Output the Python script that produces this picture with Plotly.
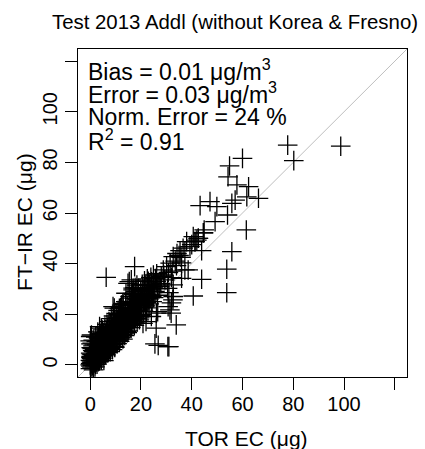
import plotly.graph_objects as go

# TOR EC vs FT-IR EC (ug)
tor_ec = [
    # x 0-3
    0.2, 0.5, 0.8, 1.0, 0.3, 1.5, 1.2, 0.6, 2.0, 1.8, 2.5, 0.1, 0.9, 2.2, 1.4,
    0.4, 2.8, 3.0, 1.7, 0.7, 2.4, 0.2, 1.1, 0.5, 1.3, 2.1, 3.2, 2.9, 0.0, 1.9,
    0.3, 0.6, 1.0, 1.6, 2.3, 2.7, 0.9, 1.4, 0.1, 2.6, 3.1, 1.2, 0.4, 0.8, 2.0,
    # x 3-6
    3.5, 3.8, 4.0, 4.2, 4.5, 4.8, 5.0, 5.2, 5.5, 5.8, 3.3, 3.6, 4.1, 4.6, 5.1,
    5.6, 5.9, 3.1, 4.4, 5.3, 4.9, 3.9, 5.7, 6.0, 3.4, 3.7, 4.3, 4.7, 5.4, 2.6,
    3.0, 4.0, 5.0, 3.2,
    # x 6-10
    6.2, 6.5, 6.8, 7.0, 7.3, 7.6, 7.9, 8.2, 8.5, 8.8, 9.1, 9.4, 9.7, 10.0, 6.4,
    6.9, 7.5, 8.1, 8.7, 9.3, 9.9, 6.3, 7.2, 8.0, 8.9, 9.6, 10.2, 7.8, 6.6, 9.0,
    6.0, 7.1, 8.4, 9.5, 6.7, 7.7, 8.6, 9.8,
    # x 10-14
    10.4, 10.7, 11.0, 11.3, 11.6, 11.9, 12.2, 12.5, 12.8, 13.1, 13.4, 13.7, 14.0,
    10.5, 11.2, 12.0, 12.7, 13.3, 10.9, 11.8, 12.9, 13.6, 14.2, 10.1, 11.5, 12.4,
    13.9, 10.8, 11.4, 12.1, 12.6, 13.2, 13.8,
    # x 14-20
    14.3, 14.6, 14.9, 15.2, 15.5, 15.8, 16.1, 16.4, 16.7, 17.0, 17.3, 17.6, 17.9,
    18.2, 18.5, 18.8, 19.1, 19.4, 19.7, 20.0, 14.8, 15.6, 16.3, 17.2, 18.0, 19.0,
    15.0, 16.0, 17.5, 18.6, 19.8, 16.9, 18.4,
    # x 20-25
    20.3, 20.6, 20.9, 21.2, 21.5, 21.8, 22.1, 22.4, 22.7, 23.0, 23.3, 23.6, 23.9,
    24.2, 24.5, 24.8, 20.5, 21.4, 22.5, 21.0, 22.0, 23.2, 24.4, 20.2,
    # extra fill of the dense band
    0.5, 1.0, 1.5, 2.0, 2.5, 3.0, 3.5, 4.0, 4.5, 5.0, 0.8, 1.6, 2.4, 3.3, 4.2,
    0.3, 1.2, 2.2, 3.0, 4.4, 1.9, 2.7, 3.6, 4.6, 5.4,
    5.5, 6.0, 6.5, 7.0, 7.5, 8.0, 8.5, 9.0, 9.5, 10.0, 5.8, 6.6, 7.4, 8.3, 9.2,
    6.1, 7.0, 7.9, 8.8, 9.7, 5.2, 6.3, 7.4, 8.5, 9.4,
    10.3, 10.8, 11.3, 11.8, 12.3, 12.8, 13.3, 13.8, 14.3, 14.8, 10.6, 11.6, 12.6,
    13.6, 14.6, 10.2, 11.0, 12.0, 13.0, 14.0, 10.9, 11.9, 12.9, 13.9, 14.9,
    15.3, 15.8, 16.3, 16.8, 17.3, 17.8, 18.3, 18.8, 19.3, 19.8, 15.1, 16.2, 17.4,
    18.5, 19.5, 15.7, 16.6, 17.7, 18.9, 19.9, 15.4, 16.5, 17.6, 18.7, 19.6,
    20.4, 20.9, 21.4, 21.9, 22.4, 22.9, 23.4, 23.9, 24.4, 24.9, 20.1, 21.1, 22.1,
    23.1, 24.1, 25.2, 25.7, 26.2, 25.0, 26.4,
    # x 25-45 band
    25.5, 26.0, 26.8, 27.4, 28.0, 28.8, 29.4, 30.1, 30.8, 31.5, 32.0, 32.7, 33.5,
    34.2, 35.0, 35.4, 36.0, 36.6, 37.3, 38.0, 38.6, 39.3, 40.0, 41.3, 42.0, 42.6,
    44.6, 26.5, 27.8, 29.0, 30.5, 32.3, 34.0, 35.8, 37.3, 36.0, 32.7, 31.0,
    # above the band
    6.3, 17.5, 15.4, 14.1, 9.5, 0.2, 16.2, 14.9, 16.9, 9.0, 12.9, 3.7, 0.0,
    # below the band
    26.0, 25.5, 26.8, 30.6, 33.9, 32.6, 31.9, 26.6, 22.0, 19.4, 30.7, 31.4, 26.1,
    22.2, 20.8, 24.1, 32.7, 32.0, 31.0,
    # high values
    43.3, 47.2, 49.9, 57.8, 62.4, 66.3, 61.7, 57.1, 55.8, 54.1, 49.2, 61.5, 44.6,
    42.6, 41.3, 43.9, 55.8, 53.8, 43.9, 53.8, 40.6, 98.7, 77.8, 80.2, 60.0, 54.9,
    54.3, 44.9, 40.6,
]
ftir_ec = [
    # x 0-3
    0.5, 1.2, 0.3, 2.0, -0.5, 1.0, 3.0, 2.5, 2.2, 0.8, 3.5, 1.8, 4.0, 4.5, 5.2,
    3.3, 1.9, 4.1, 6.0, -1.2, 5.8, 4.6, 7.5, 11.8, -2.0, 0.2, 2.8, 6.5, 0.0, 3.2,
    2.9, 0.8, 5.6, 2.6, 1.4, 4.8, -0.3, 3.9, -1.5, 2.4, 3.4, 1.5, 6.8, 8.6, 6.2,
    # x 3-6
    3.8, 5.5, 2.9, 6.8, 4.6, 7.9, 5.2, 3.6, 6.9, 8.8, 7.2, 9.1, 10.4, 8.5, 9.6,
    4.4, 11.2, 5.0, 1.9, 12.6, 13.8, 12.0, 7.3, 6.1, 2.4, 4.3, 5.7, 6.3, 8.0, 7.9,
    9.5, 8.0, 10.9, 1.2,
    # x 6-10
    8.0, 9.4, 6.9, 10.8, 8.6, 12.1, 9.7, 7.8, 11.5, 13.6, 10.3, 12.8, 9.0, 14.5, 12.7,
    14.2, 15.1, 16.2, 15.0, 17.4, 11.7, 5.1, 5.6, 6.4, 8.1, 7.2, 10.1, 13.4, 10.9, 14.0,
    7.5, 7.3, 9.9, 15.6, 11.8, 10.6, 12.4, 13.1,
    # x 10-14
    12.3, 15.9, 13.2, 11.4, 14.8, 17.1, 13.9, 16.5, 12.0, 15.3, 18.2, 14.6, 16.8,
    18.6, 19.8, 20.4, 19.0, 21.2, 9.6, 10.7, 10.2, 12.5, 13.1, 16.9, 22.3, 23.6,
    20.0, 14.0, 16.2, 15.1, 17.8, 13.7, 17.5,
    # x 14-20
    15.2, 18.9, 16.3, 20.1, 17.6, 21.9, 19.0, 16.0, 20.8, 23.4, 18.5, 21.5, 24.6,
    19.9, 22.7, 25.8, 21.3, 24.1, 27.0, 22.6, 23.5, 25.1, 26.4, 27.8, 28.9, 30.1,
    13.4, 14.7, 16.9, 18.3, 19.5, 29.6, 31.5,
    # x 20-25
    25.4, 28.1, 24.0, 26.7, 29.5, 23.3, 27.9, 30.6, 25.2, 28.8, 31.7, 26.5, 29.9,
    32.8, 27.3, 30.4, 31.8, 33.2, 34.0, 21.2, 22.5, 24.1, 25.0, 19.8,
    # extra fill of the dense band
    4.2, 0.9, 3.6, 5.1, 1.1, 6.0, 2.0, 7.4, 3.3, 8.9, 6.4, 7.9, 9.2, 10.6, 12.4,
    8.3, 9.8, 11.0, 13.0, 14.5, -0.8, 0.3, 1.5, 2.6, 1.7,
    10.1, 11.6, 13.3, 8.1, 9.5, 11.0, 14.2, 12.2, 10.8, 13.1, 14.9, 16.0, 17.1,
    18.3, 19.3, 4.0, 4.8, 5.2, 6.0, 6.9, 6.6, 9.9, 11.3, 12.9, 14.7,
    11.1, 17.6, 12.9, 14.1, 18.5, 15.7, 16.4, 19.5, 17.7, 20.8, 8.4, 9.3, 11.0,
    11.6, 12.7, 20.3, 21.5, 22.6, 23.9, 25.0, 13.7, 15.6, 17.6, 14.2, 18.4,
    19.4, 17.0, 22.8, 18.0, 25.0, 19.2, 23.7, 21.0, 26.5, 23.8, 15.5, 17.4, 15.6,
    17.0, 18.6, 27.0, 28.2, 30.5, 27.5, 29.4, 22.4, 24.6, 26.2, 24.2, 22.0,
    27.0, 30.0, 24.9, 31.4, 26.3, 33.0, 27.6, 34.6, 29.0, 35.5, 23.3, 22.8, 24.6,
    26.0, 27.0, 31.6, 34.1, 36.0, 26.6, 30.0,
    # x 25-45 band
    29.0, 33.0, 31.5, 30.9, 35.0, 37.5, 33.6, 38.8, 36.5, 40.2, 34.5, 42.8, 41.0,
    44.0, 43.2, 45.1, 40.3, 46.1, 45.1, 48.7, 37.5, 46.7, 47.5, 48.7, 49.3, 50.0,
    52.2, 27.5, 32.2, 35.5, 30.2, 37.0, 39.2, 42.5, 37.5, 34.2, 31.6, 28.5,
    # above the band
    34.6, 38.8, 32.9, 28.3, 22.4, 11.2, 33.6, 32.2, 30.3, 23.0, 24.3, 15.1, 9.5,
    # below the band
    14.5, 8.3, 7.7, 7.2, 15.8, 25.7, 20.4, 21.0, 17.1, 17.8, 23.0, 21.7, 20.4,
    21.0, 16.4, 19.1, 27.0, 24.5, 7.2,
    # high values
    62.9, 64.5, 62.5, 71.1, 70.4, 65.8, 66.4, 65.1, 63.8, 59.2, 56.6, 53.3, 52.2,
    50.0, 48.7, 45.1, 44.7, 37.8, 33.8, 28.5, 27.2, 86.4, 86.8, 80.7, 81.6, 78.6,
    74.3, 53.3, 50.7,
]

tick_vals = [0, 20, 40, 60, 80, 100, 120]
tick_text = ["0", "20", "40", "60", "80", "100", ""]
axis_range = [-4.8, 124.8]

stats_lines = [
    "Bias = 0.01 \u03bcg/m<sup>3</sup>",
    "Error = 0.03 \u03bcg/m<sup>3</sup>",
    "Norm. Error = 24 %",
    "R<sup>2</sup> = 0.91",
]
stats_y = [0.935, 0.865, 0.793, 0.723]

font_family = "Liberation Sans, Arial, sans-serif"

fig = go.Figure()

# 1:1 line
fig.add_trace(go.Scatter(x=[-10, 130], y=[-10, 130],
                         mode="lines",
                         line=dict(color="#bebebe", width=1),
                         hoverinfo="skip"))

fig.add_trace(go.Scatter(x=tor_ec, y=ftir_ec,
                         mode="markers",
                         marker=dict(symbol="cross-thin", size=14,
                                     color="black",
                                     line=dict(color="black", width=1.3))))

for txt, yy in zip(stats_lines, stats_y):
    fig.add_annotation(text=txt, x=0.025, y=yy, xref="paper", yref="paper",
                       xanchor="left", yanchor="middle", showarrow=False,
                       font=dict(size=23, color="black"))

# axis titles as annotations so they can be placed exactly
fig.add_annotation(text="TOR EC (\u03bcg)", x=0.511, y=-0.186,
                   xref="paper", yref="paper", xanchor="center",
                   yanchor="middle", showarrow=False, font=dict(size=21))
fig.add_annotation(text="FT\u2212IR EC (\u03bcg)", x=-0.161, y=0.473,
                   xref="paper", yref="paper", xanchor="center",
                   yanchor="middle", textangle=-90, showarrow=False,
                   font=dict(size=21))

fig.update_layout(width=425, height=449,
                  margin=dict(l=78, r=18, t=49, b=72),
                  plot_bgcolor="white", paper_bgcolor="white",
                  showlegend=False,
                  font=dict(family=font_family, color="black"),
                  title=dict(text="Test 2013 Addl (without Korea & Fresno)",
                             x=235 / 425, xref="container", xanchor="center",
                             y=1 - 22 / 449, yref="container", yanchor="middle",
                             font=dict(size=20.4)))

fig.update_xaxes(range=axis_range, tickvals=tick_vals, ticktext=tick_text,
                 ticks="outside", ticklen=12, tickwidth=1.3, tickcolor="black",
                 showline=True, linecolor="black", linewidth=1.3, mirror=True,
                 showgrid=False, zeroline=False, automargin=False,
                 tickfont=dict(size=20), ticklabelstandoff=-3)
fig.update_yaxes(range=axis_range, tickvals=tick_vals, ticktext=tick_text,
                 ticks="outside", ticklen=12, tickwidth=1.3, tickcolor="black",
                 showline=True, linecolor="black", linewidth=1.3, mirror=True,
                 showgrid=False, zeroline=False, automargin=False,
                 tickangle=-90, tickfont=dict(size=20))

# page body has a default 8px margin; remove it so the figure sits at 0,0
fig.write_html("out.html",
               config={"displayModeBar": False},
               post_script="document.body.style.margin='0px';")
